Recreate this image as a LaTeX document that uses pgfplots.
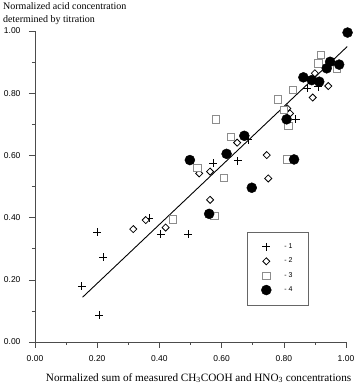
\documentclass[border=0pt]{standalone}
\usepackage{fontspec}
\setmainfont{Liberation Serif}
\setsansfont{Liberation Sans}
\usepackage{pgfplots}
\pgfplotsset{compat=1.18}
\usetikzlibrary{calc}
\begin{document}
\begin{tikzpicture}
\begin{axis}[
  scale only axis, width=311pt, height=311pt,
  xmin=0, xmax=1, ymin=0, ymax=1,
  axis lines=left, axis line style={-, black!70, line width=0.5pt},
  clip=false,
  tick align=outside, major tick length=6pt, minor tick length=3pt,
  tick style={black!70, line width=0.5pt},
  xtick={0,0.2,0.4,0.6,0.8,1}, ytick={0,0.2,0.4,0.6,0.8,1},
  minor xtick={0.1,0.3,0.5,0.7,0.9}, minor ytick={0.1,0.3,0.5,0.7,0.9},
  /pgf/number format/assume math mode=true,
  /pgf/number format/.cd, fixed, fixed zerofill, precision=2, /pgfplots/.cd,
  ticklabel style={font=\sffamily\fontsize{8.5}{10}\selectfont},
  xticklabel style={yshift=-4pt},
  yticklabel style={xshift=-5pt},
  legend style={at={(axis cs:0.682,0.355)}, anchor=north west, draw=black!60, line width=0.4pt,
    inner xsep=14pt, inner ysep=10pt, row sep=4pt, column sep=11pt,
    font=\sffamily\fontsize{7}{8}\selectfont},
  legend cell align=left,
]
\coordinate (O) at (axis cs:0,0);
\addplot[black, line width=0.9pt, forget plot] coordinates {(0.153,0.144) (1.004,0.950)};
\addplot[only marks, mark=+, mark size=4pt, line width=1pt, black] coordinates {
(0.151,0.180) (0.207,0.086) (0.200,0.353) (0.220,0.272) (0.368,0.398)
(0.405,0.346) (0.493,0.346) (0.573,0.575) (0.652,0.582) (0.686,0.650)
(0.838,0.716) (0.876,0.816) (0.911,0.821)};
\addlegendentry{- 1}
\addplot[only marks, mark=square*, mark size=2.5pt, mark options={rotate=45, fill=white, draw=black, line width=0.8pt}] coordinates {
(0.316,0.363) (0.356,0.392) (0.420,0.368) (0.528,0.542) (0.563,0.548)
(0.563,0.457) (0.650,0.641) (0.745,0.601) (0.750,0.526) (0.811,0.751)
(0.820,0.735) (0.893,0.786) (0.943,0.823) (0.900,0.864)};
\addlegendentry{- 2}
\addplot[only marks, mark=square*, mark size=3.6pt, mark options={fill=white, draw=black!45, line width=0.8pt}] coordinates {
(0.443,0.394) (0.522,0.561) (0.608,0.528) (0.577,0.405) (0.630,0.660)
(0.582,0.716) (0.809,0.587) (0.782,0.780) (0.830,0.810) (0.911,0.896)
(0.919,0.923) (0.970,0.880) (0.815,0.695) (0.800,0.745)};
\addlegendentry{- 3}
\addplot[only marks, mark=*, mark size=5pt, mark options={fill=black, draw=black}] coordinates {
(0.498,0.585) (0.616,0.605) (0.673,0.663) (0.560,0.412) (0.697,0.496)
(0.833,0.587) (0.809,0.716) (0.863,0.851) (0.890,0.842) (0.914,0.837)
(0.938,0.880) (0.949,0.901) (0.978,0.892) (1.005,0.995)};
\addlegendentry{- 4}
\node[anchor=north west, align=left, inner sep=0pt, font=\fontsize{10}{13}\selectfont]
  at ([xshift=-32pt, yshift=29pt]axis cs:0,1) {Normalized acid concentration\\determined by titration};
\node[anchor=base, inner sep=0pt, font=\fontsize{11.2}{13}\selectfont]
  at ([yshift=-39pt]axis cs:0.526,0) {Normalized sum of measured CH\textsubscript{3}COOH and HNO\textsubscript{3} concentrations};
\end{axis}
\pgfresetboundingbox
\path ($(O)+(-35pt,-45pt)$) rectangle ($(O)+(321pt,342pt)$);
\end{tikzpicture}
\end{document}
